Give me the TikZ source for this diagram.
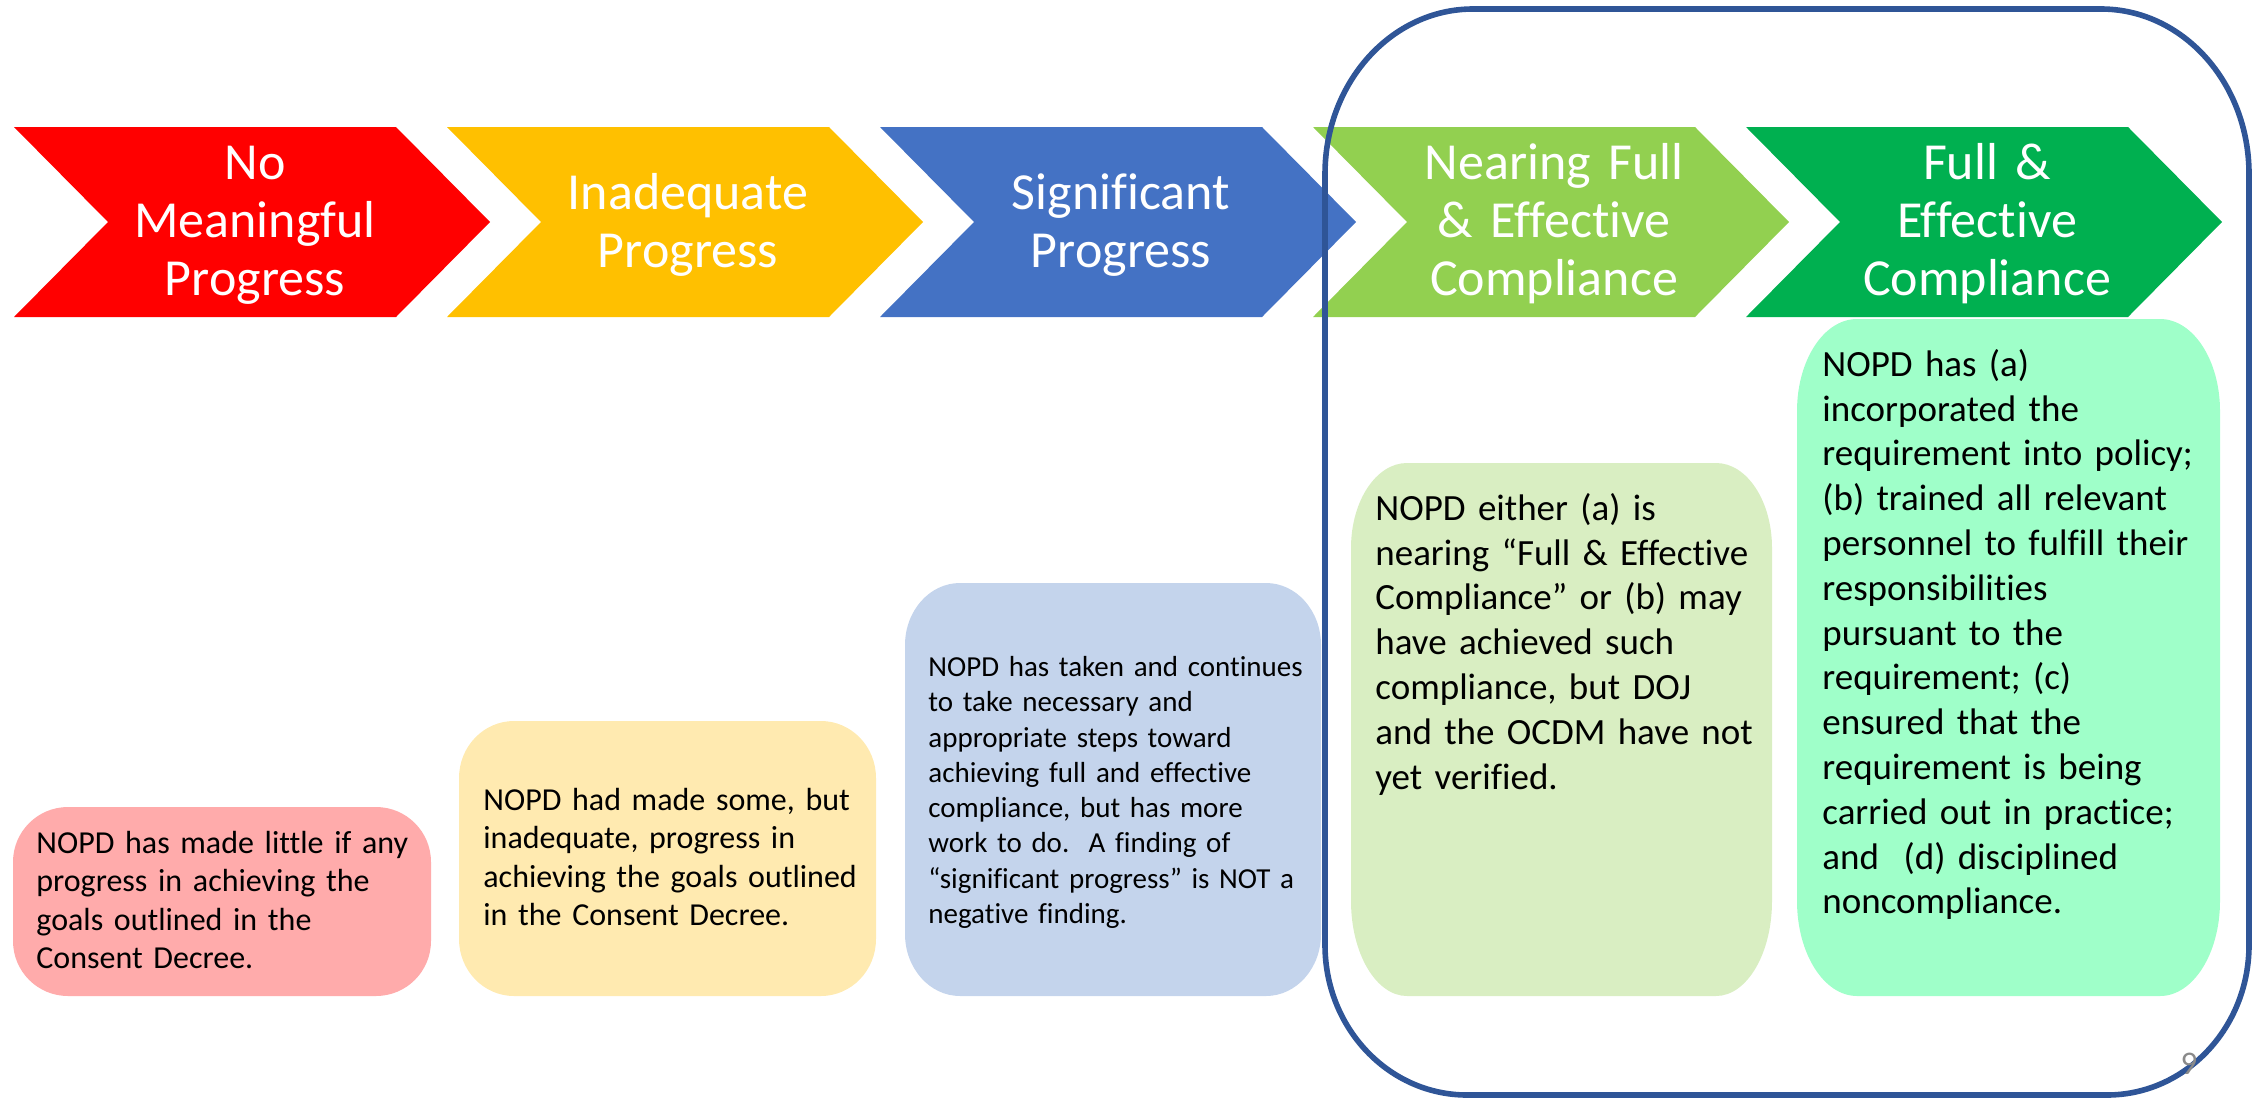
\documentclass[tikz,border=0pt]{standalone}
\usepackage{fontspec}
\setmainfont{Carlito}[Ligatures=NoCommon]
\definecolor{cRed}{HTML}{FF0000}
\definecolor{cGold}{HTML}{FFC000}
\definecolor{cBlue}{HTML}{4472C4}
\definecolor{cLime}{HTML}{92D050}
\definecolor{cGreen}{HTML}{00B050}
\definecolor{bPink}{HTML}{FFABAB}
\definecolor{bGold}{HTML}{FFEAB0}
\definecolor{bBlue}{HTML}{C4D4EC}
\definecolor{bLime}{HTML}{D9EEC2}
\definecolor{bMint}{HTML}{9FFFC9}
\definecolor{frameBlue}{HTML}{2F5597}
\definecolor{pageGray}{HTML}{8A8A8A}
% elliptical-corner rectangle: style, x1, y1, x2, y2, rx top, ry top, rx bottom, ry bottom
\newcommand\ERect[9]{%
  \path[#1] ({#2+#6},{#3}) -- ({#4-#6},{#3})
    .. controls ({#4-#6+0.5523*#6},{#3}) and ({#4},{#3+#7-0.5523*#7}) .. ({#4},{#3+#7})
    -- ({#4},{#5-#9})
    .. controls ({#4},{#5-#9+0.5523*#9}) and ({#4-#8+0.5523*#8},{#5}) .. ({#4-#8},{#5})
    -- ({#2+#8},{#5})
    .. controls ({#2+#8-0.5523*#8},{#5}) and ({#2},{#5-#9+0.5523*#9}) .. ({#2},{#5-#9})
    -- ({#2},{#3+#7})
    .. controls ({#2},{#3+#7-0.5523*#7}) and ({#2+#6-0.5523*#6},{#3}) .. ({#2+#6},{#3})
    -- cycle;}
% chevron: colour, left x
\newcommand\Chev[2]{%
  \fill[#1] (#2,127) -- ({#2+382},127) -- ({#2+476},222) -- ({#2+382},317)
    -- (#2,317) -- ({#2+94},222) -- cycle;}
\begin{document}
\begin{tikzpicture}[x=0.5pt,y=-0.5pt,
  chevtxt/.style={text=white, inner sep=0pt, anchor=north, text width=210pt,
    align=center, font=\fontsize{26}{29}\selectfont},
  boxtxt/.style={text=black, inner sep=0pt, anchor=north west, text width=205pt,
    align=left},
  smalltxt/.style={boxtxt, font=\fontsize{16}{19.25}\selectfont},
  tinytxt/.style={boxtxt, font=\fontsize{14.5}{17.65}\selectfont},
  bigtxt/.style={boxtxt, font=\fontsize{18.5}{22.4}\selectfont}]
\useasboundingbox (0,0) rectangle (2254,1098);

% chevrons
\Chev{cRed}{14}
\Chev{cGold}{447}
\Chev{cBlue}{880}
\Chev{cLime}{1313}
\Chev{cGreen}{1746}

\node[chevtxt] (c1) at (255,138.4) {\strut No\\Meaningful\\Progress};
\node[chevtxt] (c2) at (688,168) {\strut Inadequate\\Progress};
\node[chevtxt] (c3) at (1121,168) {\strut Significant\\Progress};
\node[chevtxt] (c4) at (1554,138.4) {\strut Nearing Full\\\& Effective\\Compliance};
\node[chevtxt] (c5) at (1987,138.4) {\strut Full \&\\Effective\\Compliance};

% description boxes
\ERect{fill=bPink}{13}{807}{431}{996}{55}{55}{55}{55}
\ERect{fill=bGold}{459}{721}{876}{996}{55}{57}{55}{57}
\ERect{fill=bBlue}{905}{583}{1321}{996}{55}{62}{55}{62}
\ERect{fill=bLime}{1351}{463}{1772}{996}{56}{85}{56}{95}
\ERect{fill=bMint}{1797}{319}{2220}{996}{60}{92}{60}{95}

\node[smalltxt] (d1) at (36,826) {\strut NOPD has made little if any\\progress in achieving the\\goals outlined in the\\Consent Decree.};
\node[smalltxt] (d2) at (483,783) {\strut NOPD had made some, but\\inadequate, progress in\\achieving the goals outlined\\in the Consent Decree.};
\node[tinytxt] (d3) at (928,651.3) {\strut NOPD has taken and continues\\to take necessary and\\appropriate steps toward\\achieving full and effective\\compliance, but has more\\work to do.\ \ A finding of\\“significant progress” is NOT a\\negative finding.};
\node[bigtxt] (d4) at (1375,488.6) {\strut NOPD either (a) is\\nearing “Full \& Effective\\Compliance” or (b) may\\have achieved such\\compliance, but DOJ\\and the OCDM have not\\yet verified.};
\node[bigtxt] (d5) at (1822,344.5) {\strut NOPD has (a)\\incorporated the\\requirement into policy;\\(b) trained all relevant\\personnel to fulfill their\\responsibilities\\pursuant to the\\requirement; (c)\\ensured that the\\requirement is being\\carried out in practice;\\and\ \ (d) disciplined\\noncompliance.};

% highlight frame
\ERect{draw=frameBlue, line width=2.8pt}{1325}{9}{2249}{1095}{148}{165}{142}{150}

% page number
\node[text=pageGray, inner sep=0pt, anchor=base, font=\fontsize{16.5}{20}\selectfont] (pg) at (2189,1074) {9};
\end{tikzpicture}
\end{document}
